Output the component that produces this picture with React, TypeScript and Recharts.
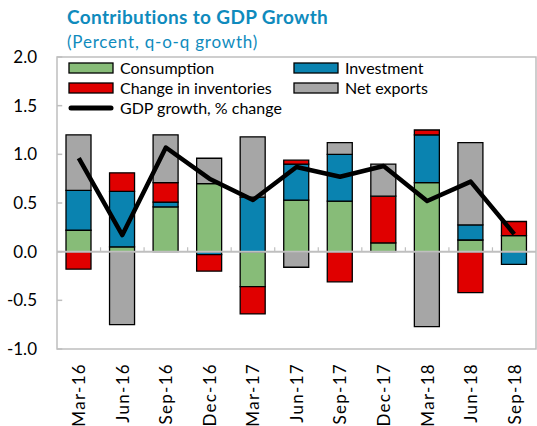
import React from 'react';
import { ComposedChart, Bar, Line, XAxis, YAxis, ReferenceLine, ReferenceArea } from 'recharts';

const categories = ['Mar-16', 'Jun-16', 'Sep-16', 'Dec-16', 'Mar-17', 'Jun-17', 'Sep-17', 'Dec-17', 'Mar-18', 'Jun-18', 'Sep-18'];
const consumption = [0.22, 0.05, 0.46, 0.7, -0.36, 0.53, 0.52, 0.09, 0.71, 0.12, 0.165];
const investment = [0.41, 0.57, 0.05, -0.03, 0.56, 0.37, 0.48, 0.0, 0.49, 0.155, -0.13];
const inventories = [-0.18, 0.19, 0.2, -0.17, -0.28, 0.04, -0.31, 0.48, 0.05, -0.42, 0.145];
const netExports = [0.57, -0.75, 0.49, 0.26, 0.62, -0.16, 0.12, 0.33, -0.77, 0.845, 0.0];
const gdpGrowth = [0.96, 0.17, 1.07, 0.75, 0.53, 0.87, 0.77, 0.88, 0.52, 0.72, 0.18];
const yTicks = [-1, -0.5, 0, 0.5, 1, 1.5, 2];

const seriesNames = ['Consumption', 'Investment', 'Change in inventories', 'Net exports', 'GDP growth, % change'];
const seriesColors = ['#87bc78', '#0a83b0', '#e00000', '#a6a6a6', '#000000'];

const data = categories.map((cat, i) => ({
  cat,
  idx: i + 0.5,
  consumption: consumption[i],
  investment: investment[i],
  inventories: inventories[i],
  netExports: netExports[i],
  gdp: gdpGrowth[i],
}));

const boundaries = categories.slice(1).map((_, i) => i + 1);

const FONT = 'Lato, "Noto Sans", sans-serif';
const TITLE_COLOR = '#0f8bbd';
const GRID = '#bfbfbf';

const XTick = (props: any) => {
  const { x, y, payload } = props;
  return (
    <text
      x={x}
      y={y}
      transform={`rotate(-90, ${x}, ${y})`}
      textAnchor="end"
      dy="0.38em"
      fontSize={17}
      letterSpacing={1.3}
      fontFamily={FONT}
      fill="#000"
    >
      {payload.value}
    </text>
  );
};

const legendItems = [
  { name: seriesNames[0], color: seriesColors[0], col: 0, row: 0, type: 'rect' },
  { name: seriesNames[1], color: seriesColors[1], col: 1, row: 0, type: 'rect' },
  { name: seriesNames[2], color: seriesColors[2], col: 0, row: 1, type: 'rect' },
  { name: seriesNames[3], color: seriesColors[3], col: 1, row: 1, type: 'rect' },
  { name: seriesNames[4], color: seriesColors[4], col: 0, row: 2, type: 'line' },
];

export default function App() {
  const colX = [69, 294];
  const rowY = [68, 88, 108];
  return (
    <div style={{ position: 'relative', width: 537, height: 426, background: '#fff' }}>
      <style>{`body{margin:0;}`}</style>
      <div
        style={{
          position: 'absolute',
          left: 67,
          top: 6,
          fontFamily: FONT,
          fontWeight: 700,
          fontSize: 19,
          letterSpacing: 0.35,
          lineHeight: 1.2,
          color: TITLE_COLOR,
          whiteSpace: 'nowrap',
        }}
      >
        Contributions to GDP Growth
      </div>
      <div
        style={{
          position: 'absolute',
          left: 67,
          top: 32,
          fontFamily: FONT,
          fontSize: 17,
          letterSpacing: 0.8,
          lineHeight: 1.2,
          color: TITLE_COLOR,
          whiteSpace: 'nowrap',
        }}
      >
        (Percent, q-o-q growth)
      </div>
      <ComposedChart
        width={537}
        height={426}
        data={data}
        stackOffset="sign"
        margin={{ top: 57, right: 1, bottom: 0, left: 0 }}
      >
        <XAxis
          dataKey="cat"
          height={77}
          axisLine={false}
          tickLine={false}
          tickSize={0}
          tickMargin={14}
          interval={0}
          tick={<XTick />}
        />
        <XAxis xAxisId="n" dataKey="idx" type="number" domain={[0, 11]} hide allowDataOverflow />
        <YAxis
          domain={[-1, 2]}
          ticks={yTicks}
          width={57}
          axisLine={false}
          tickLine={false}
          tickSize={0}
          tickMargin={20}
          tickFormatter={(v: number) => v.toFixed(1)}
          tick={{ fontSize: 17, fill: '#000', fontFamily: FONT }}
          allowDataOverflow
        />
        <ReferenceArea
          xAxisId="n"
          x1={0}
          x2={11}
          y1={-1}
          y2={2}
          fill="none"
          stroke={GRID}
          strokeWidth={1.5}
        />
        {yTicks.map((t) => (
          <ReferenceLine
            key={'yt' + t}
            xAxisId="n"
            segment={[{ x: 0, y: t }, { x: 0.12, y: t }]}
            stroke={GRID}
            strokeWidth={1.5}
          />
        ))}
        <Bar dataKey="consumption" stackId="a" fill={seriesColors[0]} stroke="#000" strokeWidth={1.3} barSize={25} isAnimationActive={false} />
        <Bar dataKey="investment" stackId="a" fill={seriesColors[1]} stroke="#000" strokeWidth={1.3} barSize={25} isAnimationActive={false} />
        <Bar dataKey="inventories" stackId="a" fill={seriesColors[2]} stroke="#000" strokeWidth={1.3} barSize={25} isAnimationActive={false} />
        <Bar dataKey="netExports" stackId="a" fill={seriesColors[3]} stroke="#000" strokeWidth={1.3} barSize={25} isAnimationActive={false} />
        <ReferenceLine y={0} stroke={GRID} strokeWidth={2} />
        {boundaries.map((b) => (
          <ReferenceLine
            key={'b' + b}
            xAxisId="n"
            segment={[{ x: b, y: 0 }, { x: b, y: 0.045 }]}
            stroke={GRID}
            strokeWidth={1.2}
          />
        ))}
        <Line
          dataKey="gdp"
          type="linear"
          stroke="#000"
          strokeWidth={4.5}
          strokeLinejoin="round"
          dot={false}
          activeDot={false}
          isAnimationActive={false}
        />
      </ComposedChart>
      <svg
        width={537}
        height={426}
        style={{ position: 'absolute', left: 0, top: 0, pointerEvents: 'none' }}
      >
        {legendItems.map((it) => {
          const x = colX[it.col];
          const y = rowY[it.row];
          return (
            <g key={it.name}>
              {it.type === 'rect' ? (
                <rect x={x} y={y - 5} width={44} height={10} fill={it.color} stroke="#000" strokeWidth={1.3} />
              ) : (
                <line x1={x + 2} y1={y} x2={x + 42} y2={y} stroke="#000" strokeWidth={5} strokeLinecap="round" />
              )}
              <text
                x={x + 51}
                y={y}
                dy="0.35em"
                fontSize={16}
                fontFamily={FONT}
                fill="#000"
              >
                {it.name}
              </text>
            </g>
          );
        })}
      </svg>
    </div>
  );
}
